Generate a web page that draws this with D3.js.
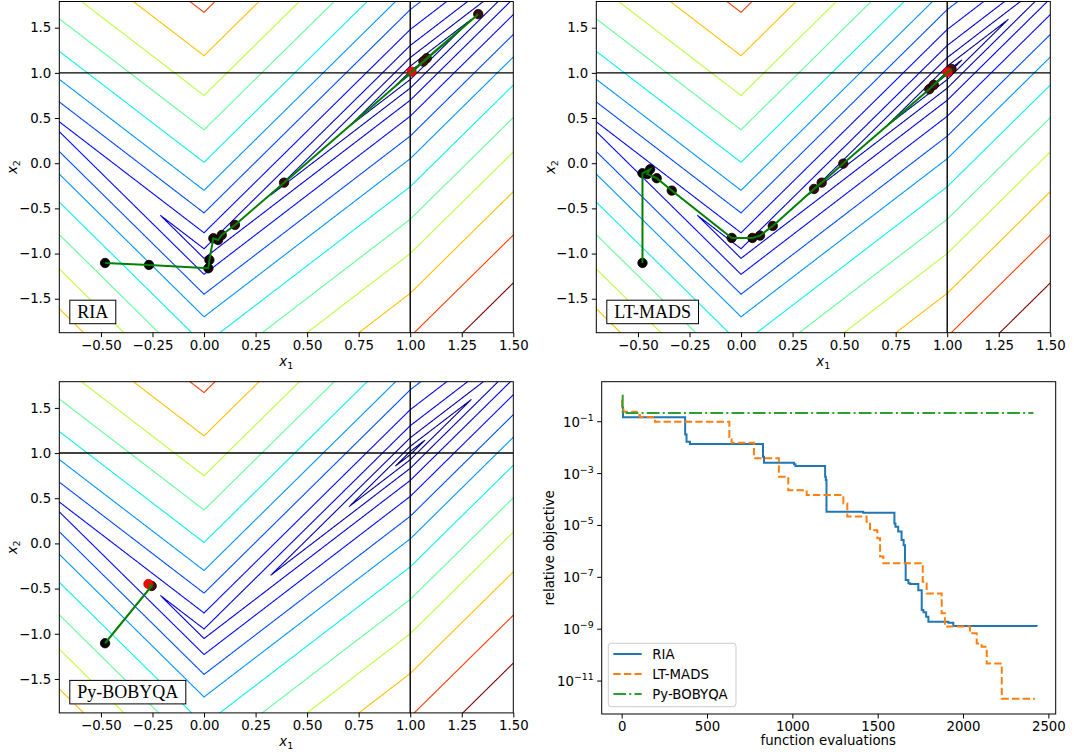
<!DOCTYPE html>
<html><head><meta charset="utf-8">
<script src="https://cdn.jsdelivr.net/npm/d3@7"></script>
<style>
body{margin:0;background:#fff}
svg{display:block}
text{fill:#000}
</style>
</head><body><svg id="c" width="1074" height="755" font-family="DejaVu Sans, sans-serif"></svg>
<script>
// ================= DATA =================
// contour levels of the objective
const contourLevels = [0.018, 0.074, 0.169, 0.303, 0.48, 0.70, 0.95, 1.26, 1.62, 2.00, 2.44, 2.92, 3.45];
const x1Ticks = [-0.5, -0.25, 0, 0.25, 0.5, 0.75, 1, 1.25, 1.5];
const x2Ticks = [-1.5, -1, -0.5, 0, 0.5, 1, 1.5];
const optimumX1 = 1, optimumX2 = 1;

// iterate paths
const riaX1 = [-0.480, -0.267, 0.021, 0.026, 0.045, 0.068, 0.086, 0.150, 0.388, 1.330, 1.080, 1.064, 1.007];
const riaX2 = [-1.104, -1.126, -1.163, -1.071, -0.831, -0.850, -0.795, -0.683, -0.215, 1.650, 1.162, 1.126, 1.014];
const ltmadsX1 = [-0.478, -0.478, -0.441, -0.455, -0.409, -0.336, -0.045, 0.055, 0.092, 0.154, 0.354, 0.391, 0.496, 0.913, 0.935, 1.021, 1.002];
const ltmadsX2 = [-1.104, -0.111, -0.067, -0.120, -0.166, -0.303, -0.827, -0.827, -0.801, -0.694, -0.285, -0.215, -0.004, 0.819, 0.867, 1.044, 1.008];
const bobyqaX1 = [-0.480, -0.254, -0.270];
const bobyqaX2 = [-1.105, -0.471, -0.449];

// convergence history (function evaluations, relative objective)
const riaEvals  = [0, 8, 372, 380, 400, 828, 834, 1010, 1018, 1192, 1196, 1200, 1415, 1598, 1604, 1620, 1640, 1652, 1660, 1664, 1680, 1690, 1738, 1758, 1768, 1784, 1797, 1914, 1943, 2432];
const riaValues = [3.5e-1, 1.48e-1, 3.2e-2, 1.7e-2, 1.38e-2, 4.5e-3, 2.6e-3, 2.3e-3, 1.95e-3, 7.6e-4, 5.6e-4, 3.4e-5, 3.1e-5, 1.2e-5, 8.9e-6, 5.8e-6, 2.75e-6, 1.74e-6, 3.5e-7, 7.9e-8, 5.9e-8, 5.5e-8, 3.2e-8, 5.5e-9, 4.5e-9, 3.0e-9, 1.95e-9, 1.78e-9, 1.32e-9, 1.26e-9];
const ltmadsEvals  = [0, 2, 10, 88, 107, 195, 631, 644, 775, 921, 976, 1084, 1299, 1322, 1435, 1455, 1498, 1514, 1533, 1764, 1787, 1875, 1894, 2041, 2080, 2109, 2139, 2227, 2422];
const ltmadsValues = [6.9e-1, 3.0e-1, 2.44e-1, 1.81e-1, 1.48e-1, 1.0e-1, 2.6e-2, 1.55e-2, 3.9e-3, 7.6e-4, 2.3e-4, 1.5e-4, 7.1e-5, 2.2e-5, 1.4e-5, 6.6e-6, 3.2e-6, 6.3e-7, 3.5e-7, 6.8e-8, 2.4e-8, 4.1e-9, 1.26e-9, 6.9e-10, 2.8e-10, 2.1e-10, 4.8e-11, 2.1e-12, 2.1e-12];
const bobyqaEvals  = [0, 6, 2412];
const bobyqaValues = [1.0, 2.15e-1, 2.15e-1];

const evalTicks = [0, 500, 1000, 1500, 2000, 2500];
const objTickExponents = [-1, -3, -5, -7, -9, -11];
const seriesNames = ["RIA", "LT-MADS", "Py-BOBYQA"];

// objective whose level sets are drawn (nonsmooth Chebyshev-Rosenbrock variant)
const objective = (a, b) => 0.25 * Math.abs(a - 1) + Math.abs(b - 2 * Math.abs(a) + 1);

// ================= DRAWING =================
const svg = d3.select("#c");
const minus = s => s.replace(/-/g, "\u2212");
const FS = 13.3;

function jet(t) {
  const r = d3.scaleLinear([0, 0.35, 0.66, 0.89, 1], [0, 0, 1, 1, 0.5]).clamp(true)(t);
  const g = d3.scaleLinear([0, 0.125, 0.375, 0.64, 0.91, 1], [0, 0, 1, 1, 0, 0]).clamp(true)(t);
  const b = d3.scaleLinear([0, 0.11, 0.34, 0.65, 1], [0.5, 1, 1, 0, 0]).clamp(true)(t);
  return d3.rgb(r * 255, g * 255, b * 255).toString();
}
const cmin = d3.min(contourLevels), cmax = d3.max(contourLevels);

// sample grid (extends beyond the axes, clipped later)
const gx0 = -0.8, gx1 = 1.6, gy0 = -2.0, gy1 = 1.9, gh = 0.005;
const nx = Math.round((gx1 - gx0) / gh) + 1, ny = Math.round((gy1 - gy0) / gh) + 1;
const grid = new Float64Array(nx * ny);
for (let j = 0; j < ny; j++) for (let i = 0; i < nx; i++) grid[j * nx + i] = objective(gx0 + i * gh, gy0 + j * gh);
const contourSets = d3.contours().size([nx, ny]).thresholds(contourLevels)(grid);

const PW = 454, PH = 331.2;
const panels = [
  { left: 59.3, top: 1.5, name: "RIA", X1: riaX1, X2: riaX2, ylx: 13 },
  { left: 596.3, top: 1.5, name: "LT-MADS", X1: ltmadsX1, X2: ltmadsX2, ylx: 551 },
  { left: 59.3, top: 381.7, name: "Py-BOBYQA", X1: bobyqaX1, X2: bobyqaX2, ylx: 13 }
];

panels.forEach((p, k) => {
  const g = svg.append("g").attr("transform", `translate(${p.left},${p.top})`);
  const x = d3.scaleLinear([-0.702, 1.5], [0, PW]);
  const y = d3.scaleLinear([-1.876, 1.79], [PH, 0]);
  const cid = "clip" + k;
  g.append("clipPath").attr("id", cid).append("rect").attr("width", PW).attr("height", PH);
  const body = g.append("g").attr("clip-path", `url(#${cid})`);

  const proj = d3.geoTransform({
    point(u, v) { this.stream.point(x(gx0 + (u - 0.5) * gh), y(gy0 + (v - 0.5) * gh)); }
  });
  const gp = d3.geoPath(proj);
  body.selectAll("path.ct").data(contourSets).join("path")
    .attr("class", "ct").attr("d", gp).attr("fill", "none")
    .attr("stroke", d => jet((d.value - cmin) / (cmax - cmin)))
    .attr("stroke-width", 1.1).attr("stroke-linejoin", "miter");

  body.append("line").attr("x1", x(optimumX1)).attr("x2", x(optimumX1)).attr("y1", 0).attr("y2", PH)
    .attr("stroke", "#000").attr("stroke-width", 1.4);
  body.append("line").attr("x1", 0).attr("x2", PW).attr("y1", y(optimumX2)).attr("y2", y(optimumX2))
    .attr("stroke", "#000").attr("stroke-width", 1.4);

  const pts = p.X1.map((v, i) => [v, p.X2[i]]);
  const n = pts.length;
  const mcol = d3.interpolateRgb("#000000", "#4a1010");
  body.selectAll("circle.m").data(pts.slice(0, n - 1)).join("circle").attr("class", "m")
    .attr("cx", d => x(d[0])).attr("cy", d => y(d[1])).attr("r", 4.7)
    .attr("fill", (d, i) => mcol(i / Math.max(1, n - 2))).attr("stroke", "#000").attr("stroke-width", 0.8);
  body.append("circle").attr("cx", x(pts[n - 1][0])).attr("cy", y(pts[n - 1][1])).attr("r", 4.7)
    .attr("fill", "#ff0000").attr("stroke", "#c00000").attr("stroke-width", 0.6);
  body.append("path").datum(pts).attr("d", d3.line().x(d => x(d[0])).y(d => y(d[1])))
    .attr("fill", "none").attr("stroke", "#008000").attr("stroke-width", 2);

  g.append("rect").attr("width", PW).attr("height", PH).attr("fill", "none").attr("stroke", "#000").attr("stroke-width", 1);

  const ax = g.append("g").attr("transform", `translate(0,${PH})`)
    .call(d3.axisBottom(x).tickValues(x1Ticks).tickSize(4.5).tickPadding(3.5).tickFormat(d => minus(d3.format(".2f")(d))));
  const ay = g.append("g")
    .call(d3.axisLeft(y).tickValues(x2Ticks).tickSize(4.5).tickPadding(3.5).tickFormat(d => minus(d3.format(".1f")(d))));
  [ax, ay].forEach(a => {
    a.select(".domain").remove();
    a.selectAll("text").attr("font-size", FS).attr("font-family", "DejaVu Sans, sans-serif").attr("fill", "#000");
    a.selectAll("line").attr("stroke", "#000");
  });

  const xl = g.append("text").attr("x", PW / 2).attr("y", PH + 33).attr("text-anchor", "middle").attr("font-size", FS);
  xl.append("tspan").attr("font-style", "italic").text("x");
  xl.append("tspan").attr("font-size", 9.5).attr("dy", 3).text("1");
  const yl = svg.append("text").attr("transform", `translate(${p.ylx + 4},${p.top + PH / 2}) rotate(-90)`)
    .attr("text-anchor", "middle").attr("font-size", FS);
  yl.append("tspan").attr("font-style", "italic").text("x");
  yl.append("tspan").attr("font-size", 9.5).attr("dy", 3).text("2");

  // label box
  const lb = g.append("g");
  const t = lb.append("text").attr("x", 18).attr("y", PH - 15)
    .style("font-family", "'Liberation Serif', 'Times New Roman', serif")
    .attr("font-size", 18).text(p.name);
  const bb = t.node().getBBox();
  lb.insert("rect", "text").attr("x", bb.x - 7.5).attr("y", bb.y - 1.5).attr("width", bb.width + 15).attr("height", bb.height + 3.5)
    .attr("fill", "#fff").attr("stroke", "#000").attr("stroke-width", 1);
});

// ---------- convergence panel ----------
{
  const L = 601.7, T = 381.7, W = 454, Hh = 332.3;
  const g = svg.append("g").attr("transform", `translate(${L},${T})`);
  const x = d3.scaleLinear([-117, 2543], [0, W]);
  const y = d3.scaleLog([Math.pow(10, 0.543), Math.pow(10, -12.27)], [0, Hh]);
  g.append("clipPath").attr("id", "clipc").append("rect").attr("width", W).attr("height", Hh);
  const body = g.append("g").attr("clip-path", "url(#clipc)");
  const series = [
    { ev: riaEvals, val: riaValues, color: "#1f77b4", dash: null },
    { ev: ltmadsEvals, val: ltmadsValues, color: "#ff7f0e", dash: "7.4,3.2" },
    { ev: bobyqaEvals, val: bobyqaValues, color: "#2ca02c", dash: "12.8,3.2,2,3.2" }
  ];
  const line = d3.line().x(d => x(d[0])).y(d => y(d[1])).curve(d3.curveStepAfter);
  series.forEach(s => {
    body.append("path").datum(s.ev.map((e, i) => [e, s.val[i]])).attr("d", line)
      .attr("fill", "none").attr("stroke", s.color).attr("stroke-width", 2)
      .attr("stroke-dasharray", s.dash);
  });
  g.append("rect").attr("width", W).attr("height", Hh).attr("fill", "none").attr("stroke", "#000").attr("stroke-width", 1);

  const ax = g.append("g").attr("transform", `translate(0,${Hh})`)
    .call(d3.axisBottom(x).tickValues(evalTicks).tickSize(4.5).tickPadding(3.5).tickFormat(d3.format("d")));
  ax.select(".domain").remove();
  ax.selectAll("text").attr("font-size", FS).attr("font-family", "DejaVu Sans, sans-serif").attr("fill", "#000");
  ax.selectAll("line").attr("stroke", "#000");

  const ay = g.append("g");
  objTickExponents.forEach(e => {
    const yy = y(Math.pow(10, e));
    ay.append("line").attr("x1", -4.5).attr("x2", 0).attr("y1", yy).attr("y2", yy).attr("stroke", "#000");
    const t = ay.append("text").attr("x", -8).attr("y", yy + 5).attr("text-anchor", "end").attr("font-size", FS);
    t.append("tspan").text("10");
    t.append("tspan").attr("font-size", 9.4).attr("dy", -6).text(minus(String(e)));
  });

  g.append("text").attr("x", W / 2 - 0.5).attr("y", Hh + 31).attr("text-anchor", "middle").attr("font-size", FS).text("function evaluations");
  svg.append("text").attr("transform", `translate(554,${T + Hh / 2}) rotate(-90)`).attr("text-anchor", "middle")
    .attr("font-size", FS).text("relative objective");

  // legend
  const lg = g.append("g").attr("transform", "translate(6.6,261.6)");
  lg.append("rect").attr("width", 127.7).attr("height", 63.4).attr("rx", 3).attr("fill", "#fff").attr("fill-opacity", 0.8)
    .attr("stroke", "#ccc").attr("stroke-width", 1);
  series.forEach((s, i) => {
    const yy = 10.7 + i * 20;
    lg.append("line").attr("x1", 5).attr("x2", 33.4).attr("y1", yy).attr("y2", yy)
      .attr("stroke", s.color).attr("stroke-width", 2).attr("stroke-dasharray", s.dash);
    lg.append("text").attr("x", 44).attr("y", yy + 4.7).attr("font-size", FS).text(seriesNames[i]);
  });
}
</script>
</body></html>
